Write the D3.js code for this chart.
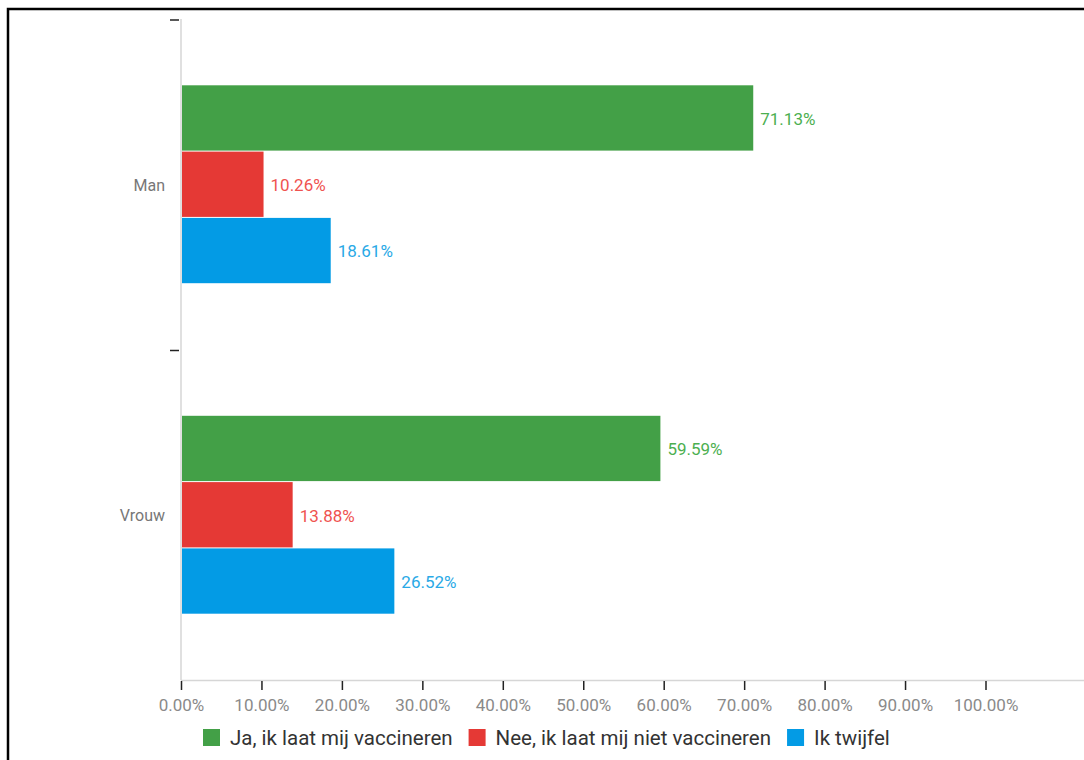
<!DOCTYPE html>
<html>
<head>
<meta charset="utf-8">
<script src="https://cdn.jsdelivr.net/npm/d3@7"></script>
<style>
  body { margin: 0; background: #fff; }
  text { font-family: Roboto, sans-serif; }
</style>
</head>
<body>
<div id="container"></div>
<script>
// DATA
const groups = ["Man", "Vrouw"];
const series = ["Ja, ik laat mij vaccineren", "Nee, ik laat mij niet vaccineren", "Ik twijfel"];
const valuesMan = [0.7113, 0.1026, 0.1861];
const valuesVrouw = [0.5959, 0.1388, 0.2652];
const xTicks = [0, 0.1, 0.2, 0.3, 0.4, 0.5, 0.6, 0.7, 0.8, 0.9, 1.0];

const barColors = ["#43a047", "#e53935", "#039be5"];
const textColors = ["#4caf50", "#ef5350", "#29a9e6"];

const width = 1084, height = 760;
const rows = [valuesMan, valuesVrouw];
const data = [];
groups.forEach((g, i) => series.forEach((s, j) => data.push({group: g, series: s, value: rows[i][j], idx: j})));

// SCALES
const x = d3.scaleLinear().domain([0, 1]).range([181, 985.5]);
const y = d3.scaleBand().domain(groups).range([19, 680]);
const sub = d3.scaleBand().domain(series).range([0, y.bandwidth()]).paddingOuter(1).paddingInner(0.015);

const svg = d3.select("#container").append("svg")
  .attr("width", width).attr("height", height);

// frame
svg.append("rect")
  .attr("x", 8).attr("y", 9).attr("width", 1100).attr("height", 800)
  .attr("fill", "none").attr("stroke", "#000").attr("stroke-width", 2.5);

// axes lines
svg.append("line").attr("x1", 181).attr("x2", 181).attr("y1", 19).attr("y2", 680)
  .attr("stroke", "#d6d6d6").attr("stroke-width", 1.5);
svg.append("line").attr("x1", 181).attr("x2", 1084).attr("y1", 680.5).attr("y2", 680.5)
  .attr("stroke", "#d6d6d6").attr("stroke-width", 1.5);

// y ticks at band boundaries
svg.selectAll(".ytick")
  .data(groups)
  .join("line")
  .attr("class", "ytick")
  .attr("x1", 170).attr("x2", 179)
  .attr("y1", d => y(d) + 1).attr("y2", d => y(d) + 1)
  .attr("stroke", "#222").attr("stroke-width", 1.5);

svg.selectAll(".ylabel")
  .data(groups)
  .join("text")
  .attr("class", "ylabel")
  .attr("x", 165)
  .attr("y", d => y(d) + y.bandwidth() / 2 + 1)
  .attr("dy", "0.35em")
  .attr("text-anchor", "end")
  .attr("fill", "#777")
  .attr("font-size", 16)
  .text(d => d);

// x axis
const xAxis = svg.append("g")
  .attr("transform", "translate(0,681)")
  .call(d3.axisBottom(x).tickValues(xTicks).tickFormat(d3.format(".2%")).tickSize(9).tickSizeOuter(0));
xAxis.select(".domain").remove();
xAxis.selectAll(".tick line").attr("stroke", "#222").attr("stroke-width", 1.5);
xAxis.selectAll(".tick text").attr("fill", "#8a8a8a").attr("font-size", 17)
  .attr("font-family", "Roboto, sans-serif").attr("dy", "1.05em");

// bars
svg.selectAll(".bar")
  .data(data)
  .join("rect")
  .attr("class", "bar")
  .attr("x", x(0) + 1)
  .attr("y", d => y(d.group) + sub(d.series))
  .attr("width", d => x(d.value) - x(0) - 1)
  .attr("height", sub.bandwidth())
  .attr("fill", d => barColors[d.idx]);

svg.selectAll(".val")
  .data(data)
  .join("text")
  .attr("class", "val")
  .attr("x", d => x(d.value) + 7)
  .attr("y", d => y(d.group) + sub(d.series) + sub.bandwidth() / 2 + 1)
  .attr("dy", "0.35em")
  .attr("fill", d => textColors[d.idx])
  .attr("font-size", 17)
  .text(d => d3.format(".2%")(d.value));

// legend
const legend = svg.append("g").attr("transform", "translate(0,738)");
let lx = 203;
series.forEach((s, i) => {
  const g = legend.append("g").attr("transform", `translate(${lx},0)`);
  g.append("rect").attr("x", 0).attr("y", -9).attr("width", 17).attr("height", 17).attr("fill", barColors[i]);
  const t = g.append("text").attr("x", 27).attr("dy", "0.35em")
    .attr("font-family", "Lato, sans-serif").attr("font-size", 20.5).attr("fill", "#333").text(s);
  lx += 27 + t.node().getComputedTextLength() + 16;
});
</script>
</body>
</html>
